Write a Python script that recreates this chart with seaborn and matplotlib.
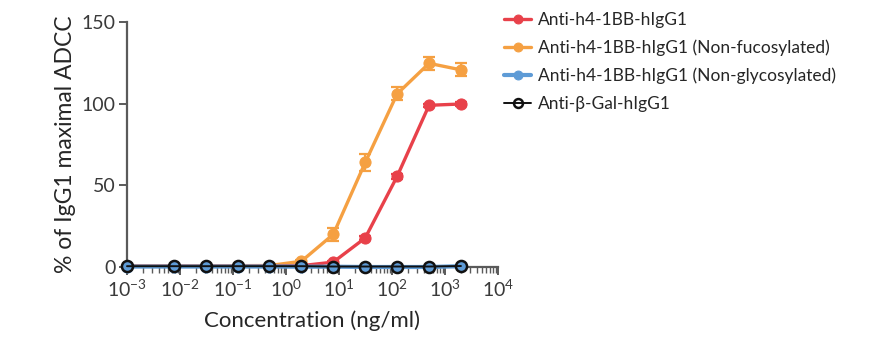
import numpy as np
import pandas as pd
import seaborn as sns
import matplotlib.pyplot as plt
from matplotlib.ticker import LogLocator, LogFormatterMathtext, NullFormatter

# data
conc = [0.001, 0.00763, 0.0305, 0.122, 0.488, 1.95, 7.81, 31.25, 125, 500, 2000]
wt = [0.5, 0.5, 0.5, 0.5, 0.5, 0.8, 3.0, 17.8, 55.5, 99.0, 99.8]
wt_err = [0, 0, 0, 0, 0, 0, 0.5, 1.0, 1.5, 1.0, 1.0]
nonfuc = [0.8, 0.8, 0.8, 0.8, 0.9, 3.5, 20.0, 64.0, 106.0, 124.7, 120.7]
nonfuc_err = [0, 0, 0, 0, 0, 0.8, 4.0, 5.0, 4.0, 4.0, 4.0]
nonglyc = [0.3, 0.3, 0.3, 0.3, 0.3, 0.2, 0.2, 0.0, 0.0, 0.0, 0.5]
gal = [0.5, 0.5, 0.5, 0.5, 0.5, 0.5, 0.3, 0.3, 0.3, 0.3, 0.6]

labels = ["Anti-h4-1BB-hIgG1",
          "Anti-h4-1BB-hIgG1 (Non-fucosylated)",
          "Anti-h4-1BB-hIgG1 (Non-glycosylated)",
          "Anti-\u03b2-Gal-hIgG1"]
colors = ["#E8414A", "#F5A042", "#5E9BD6", "#111111"]

sns.set_style("ticks")
plt.rcParams['font.family'] = ['Lato', 'DejaVu Sans']
plt.rcParams['mathtext.fontset'] = 'custom'
plt.rcParams['mathtext.rm'] = 'Lato'
plt.rcParams['mathtext.it'] = 'Lato:italic'
plt.rcParams['mathtext.bf'] = 'Lato:bold'

fig = plt.figure(figsize=(8.79, 3.58), dpi=100)
ax = fig.add_axes([127/879, 1-267/358, (498-127)/879, (267-22)/358])

lw = 2.4
ms = 8

#orange with error bars
ax.errorbar(conc, nonfuc, yerr=nonfuc_err, fmt='none', ecolor=colors[1],
            elinewidth=1.6, capsize=4, capthick=1.6, zorder=2, clip_on=False)
sns.lineplot(x=conc, y=nonfuc, color=colors[1], marker='o', markersize=ms,
             markeredgecolor=colors[1], linewidth=lw, ax=ax, label=labels[1],
             zorder=3, clip_on=False)
#red
ax.errorbar(conc, wt, yerr=wt_err, fmt='none', ecolor=colors[0],
            elinewidth=1.6, capsize=4, capthick=1.6, zorder=4, clip_on=False)
sns.lineplot(x=conc, y=wt, color=colors[0], marker='o', markersize=ms,
             markeredgecolor=colors[0], linewidth=lw, ax=ax, label=labels[0],
             zorder=5, clip_on=False)
#blue
sns.lineplot(x=conc, y=nonglyc, color=colors[2], marker='o', markersize=ms,
             markeredgecolor=colors[2], linewidth=lw + 0.6,
             ax=ax, label=labels[2], zorder=6, clip_on=False)
#black open circles on top
sns.lineplot(x=conc, y=gal, color=colors[3], marker='o', markersize=ms,
             markerfacecolor='none', markeredgecolor=colors[3], markeredgewidth=1.8,
             linewidth=1.4, ax=ax, label=labels[3], zorder=7, clip_on=False)

ax.set_xscale('log')
ax.set_xlim(1e-3, 1e4)
ax.set_ylim(0, 150)
ax.set_yticks([0, 50, 100, 150])
ax.xaxis.set_major_locator(LogLocator(base=10, numticks=20))
ax.xaxis.set_major_formatter(LogFormatterMathtext())
ax.xaxis.set_minor_locator(LogLocator(base=10, subs=np.arange(2, 10), numticks=100))
ax.xaxis.set_minor_formatter(NullFormatter())

sns.despine(ax=ax)
for s in ['left', 'bottom']:
    ax.spines[s].set_color('#5a5a5a')
    ax.spines[s].set_linewidth(1.6)
ax.tick_params(axis='both', which='major', colors='#5a5a5a', width=1.4, length=6,
               pad=2, labelsize=14, labelcolor='#3a3a3a')
ax.tick_params(axis='x', which='minor', colors='#5a5a5a', width=1.0, length=4)

ax.set_xlabel("Concentration (ng/ml)", fontsize=16, labelpad=8)
ax.set_ylabel("% of IgG1 maximal ADCC", fontsize=16.5, labelpad=4)

handles, lbls = ax.get_legend_handles_labels()
order = [lbls.index(l) for l in labels]
ax.get_legend().remove()
fig.legend([handles[i] for i in order], labels, loc='upper left',
           bbox_to_anchor=(488/879, 1+4/358), frameon=False, fontsize=12.5,
           handlelength=1.6, handletextpad=0.4, labelspacing=0.68, markerscale=0.8)

fig.savefig("out.png", dpi=100)
